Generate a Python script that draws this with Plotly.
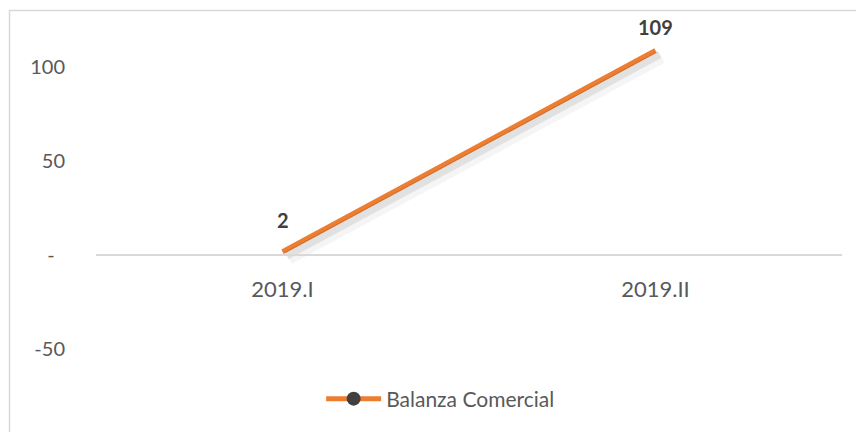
import plotly.graph_objects as go

categories = ["2019.I", "2019.II"]
balanza_comercial = [2, 109]
series_name = "Balanza Comercial"
ytick_vals = [100, 50, 0, -50]
ytick_text = ["100", "50", "-\u00a0\u00a0", "-50"]

ORANGE = "#ED7D31"
FONT = "Lato"
TXT = "#595959"

W, H = 856, 432
ML, MR, MT, MB = 96, 14, 12, 12
pw = W - ML - MR
ph = H - MT - MB
y_lo, y_hi = -87.5, 129.5
x_lo, x_hi = -0.5, 1.5
px_per_y = ph / (y_hi - y_lo)
px_per_x = pw / (x_hi - x_lo)

fig = go.Figure()

# shadow traces (same data, shifted axes)
for i, (w, c, dx, dy) in enumerate([(14, "rgba(0,0,0,0.04)", 6, 6), (8, "rgba(0,0,0,0.08)", 4, 4)]):
    ax = i + 2
    fig.add_trace(go.Scatter(
        x=[0, 1], y=balanza_comercial, mode="lines",
        line=dict(color=c, width=w), showlegend=False, hoverinfo="skip",
        xaxis=f"x{ax}", yaxis=f"y{ax}"))
    fig.layout[f"xaxis{ax}"] = dict(range=[x_lo - dx / px_per_x, x_hi - dx / px_per_x],
                                    visible=False, overlaying="x", domain=[0, 1])
    fig.layout[f"yaxis{ax}"] = dict(range=[y_lo + dy / px_per_y, y_hi + dy / px_per_y],
                                    visible=False, overlaying="y", domain=[0, 1])

fig.add_trace(go.Scatter(
    x=[0, 1], y=balanza_comercial, mode="lines",
    line=dict(color=ORANGE, width=5), showlegend=False, hoverinfo="skip"))

# legend entry
fig.add_trace(go.Scatter(
    x=[None], y=[None], mode="lines+markers", name=series_name,
    line=dict(color=ORANGE, width=5),
    marker=dict(color="#404040", size=14)))

label_shift = [32, 24]
for i, v in enumerate(balanza_comercial):
    fig.add_annotation(x=i, y=v, text=f"<b>{v}</b>", showarrow=False,
                       yshift=label_shift[i], font=dict(family=FONT, size=20, color="#404040"))

fig.update_layout(
    width=W, height=H,
    margin=dict(l=ML, r=MR, t=MT, b=MB),
    paper_bgcolor="white", plot_bgcolor="white",
    font=dict(family=FONT, size=20, color=TXT),
    xaxis=dict(range=[x_lo, x_hi], tickvals=[0, 1], ticktext=categories,
               showgrid=False, zeroline=False, showline=True,
               linecolor="#d9d9d9", linewidth=2,
               anchor="free", position=(0 - y_lo) / (y_hi - y_lo),
               ticks="outside", ticklen=14, tickcolor="rgba(0,0,0,0)",
               tickfont=dict(family=FONT, size=22, color=TXT)),
    yaxis=dict(range=[y_lo, y_hi], tickvals=ytick_vals, ticktext=ytick_text,
               showgrid=False, zeroline=False, showline=False,
               ticks="outside", ticklen=26, tickcolor="rgba(0,0,0,0)",
               tickfont=dict(family=FONT, size=20, color=TXT)),
    legend=dict(orientation="h", x=0.462, xanchor="center", y=0.0515, yanchor="middle",
                itemwidth=55,
                font=dict(family=FONT, size=21, color=TXT), bgcolor="rgba(0,0,0,0)"),
    shapes=[dict(type="rect", xref="paper", yref="paper",
                 x0=(9.5 - ML) / pw, x1=(W + 10 - ML) / pw,
                 y0=-(H + 10 - (H - MB)) / ph, y1=1 + (MT - 10.5) / ph,
                 line=dict(color="#d9d9d9", width=1.5), layer="below")],
    showlegend=True,
)

fig.write_html("out.html", config={"displayModeBar": False},
               post_script="document.body.style.margin='0';document.body.style.overflow='hidden';")
